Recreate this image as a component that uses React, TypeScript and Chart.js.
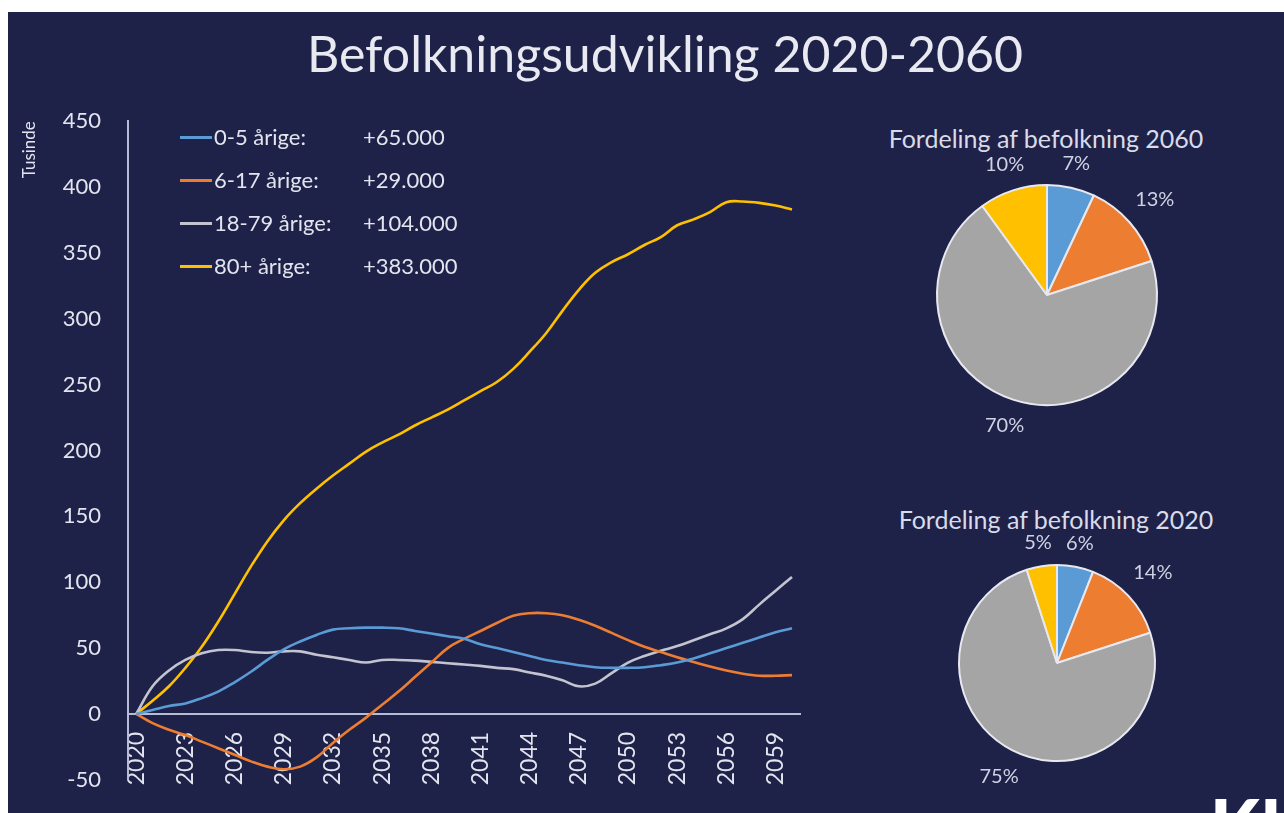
import React, { useEffect, useRef } from "react";
import { Chart, registerables } from "chart.js";

Chart.register(...registerables);

// ---------- DATA ----------
const years = [
  "2020", "2021", "2022", "2023", "2024", "2025", "2026", "2027", "2028", "2029",
  "2030", "2031", "2032", "2033", "2034", "2035", "2036", "2037", "2038", "2039",
  "2040", "2041", "2042", "2043", "2044", "2045", "2046", "2047", "2048", "2049",
  "2050", "2051", "2052", "2053", "2054", "2055", "2056", "2057", "2058", "2059",
  "2060",
];
const shownYearTicks = [
  "2020", "2023", "2026", "2029", "2032", "2035", "2038",
  "2041", "2044", "2047", "2050", "2053", "2056", "2059",
];

const age0to5 = [
  0, 3, 6, 8, 12, 17, 24, 32, 41, 49,
  55, 60, 64, 65, 65.5, 65.5, 65, 63, 61, 59,
  57, 53, 50, 47, 44, 41, 39, 37, 35.5, 35,
  35, 35.5, 37, 39, 42, 46, 50, 54, 58, 62,
  65,
];
const age6to17 = [
  0, -7, -12, -16, -21, -26, -31, -36, -40, -42,
  -40, -33, -22, -12, -3, 7, 17, 28, 39, 50,
  57, 63, 69, 74.5, 76.5, 76.5, 75, 71.5, 67, 61.5,
  56, 51, 47, 43, 39.5, 36, 33, 30.5, 29, 29,
  29.5,
];
const age18to79 = [
  0, 21, 33, 41, 46, 48.5, 48.5, 47, 46.5, 47.5,
  47.5, 45, 43, 41, 39, 41, 41, 40.5, 39.5, 38.5,
  37.5, 36.5, 35, 34, 31.5, 29, 25.5, 21, 23, 31,
  39, 44, 48, 51.5, 56, 60.5, 65, 72, 83, 93.5,
  104,
];
const age80plus = [
  0, 10, 21, 35, 51, 70, 91, 112, 131, 147,
  160, 171, 181, 190, 199, 206, 212, 219, 225, 231,
  238, 245, 252, 262, 275, 289, 306, 322, 335, 343,
  349, 356, 362, 371, 375.5, 381, 388.5, 389, 388, 386,
  383,
];

const seriesLabels = ["0-5 årige:", "6-17 årige:", "18-79 årige:", "80+ årige:"];
const changeLabels = ["+65.000", "+29.000", "+104.000", "+383.000"];

const pie2060 = [7, 13, 70, 10];
const pie2020 = [6, 14, 75, 5];

// ---------- STYLE ----------
const BG = "#1e2249";
const TEXT = "#e3e4ee";
const AXIS = "#b7bbd5";
const COLORS = ["#5b9bd5", "#ed7d31", "#c3c4cf", "#ffc000"];
const PIE_COLORS = ["#5b9bd5", "#ed7d31", "#a5a5a5", "#ffc000"];
const FONT = "Lato, 'Open Sans', sans-serif";

function LineChart() {
  const ref = useRef<HTMLCanvasElement | null>(null);
  useEffect(() => {
    if (!ref.current) return;
    const series = [age0to5, age6to17, age18to79, age80plus];
    const chart = new Chart(ref.current, {
      type: "line",
      data: {
        labels: years,
        datasets: series.map((d, i) => ({
          label: seriesLabels[i],
          data: d,
          borderColor: COLORS[i],
          backgroundColor: COLORS[i],
          borderWidth: 2.6,
          pointRadius: 0,
          tension: 0.4,
          fill: false,
        })),
      },
      options: {
        animation: false,
        responsive: false,
        maintainAspectRatio: false,
        events: [],
        layout: { padding: { top: 18, bottom: 23, left: 0, right: 34 } },
        plugins: { legend: { display: false }, tooltip: { enabled: false } },
        scales: {
          x: {
            type: "category",
            offset: true,
            position: { y: 0 } as any,
            grid: { display: false, drawTicks: false },
            border: { display: true, color: AXIS, width: 2 },
            ticks: {
              autoSkip: false,
              maxRotation: 90,
              minRotation: 90,
              color: TEXT,
              padding: 18,
              font: { family: FONT, size: 23 },
              callback: (_v: any, idx: number) =>
                shownYearTicks.includes(years[idx]) ? years[idx] : "",
            },
            afterFit: (s: any) => {
              s.height = 0;
            },
          },
          y: {
            min: -50,
            max: 450,
            grid: { display: false, drawTicks: false },
            border: { display: true, color: AXIS, width: 2 },
            ticks: {
              stepSize: 50,
              color: TEXT,
              padding: 27,
              font: { family: FONT, size: 22 },
            },
            title: {
              display: true,
              text: "Tusinde",
              align: "end",
              color: TEXT,
              font: { family: FONT, size: 17 },
              padding: { top: 11, bottom: 0 },
            },
            afterFit: (s: any) => {
              s.width = 120;
            },
          },
        },
      },
    });
    return () => chart.destroy();
  }, []);
  return (
    <canvas
      ref={ref}
      width={830}
      height={739}
      style={{ position: "absolute", left: 0, top: 69, width: 830, height: 739 }}
    />
  );
}

const pieLabelPlugin = {
  id: "pieOutsideLabels",
  afterDatasetsDraw(chart: any) {
    const ctx = chart.ctx;
    const meta = chart.getDatasetMeta(0);
    const values = chart.data.datasets[0].data as number[];
    const size = 20;
    ctx.save();
    ctx.font = `${size}px ${FONT}`;
    ctx.fillStyle = "#cfd2e3";
    ctx.textAlign = "center";
    ctx.textBaseline = "middle";
    meta.data.forEach((arc: any, i: number) => {
      const p = arc.getProps(["x", "y", "startAngle", "endAngle", "outerRadius"], true);
      const mid = (p.startAngle + p.endAngle) / 2;
      const ux = Math.cos(mid);
      const uy = Math.sin(mid);
      const text = `${values[i]}%`;
      const w = ctx.measureText(text).width;
      const h = size * 0.75;
      const d = p.outerRadius + 14 + Math.abs(ux) * w / 2 + Math.abs(uy) * h / 2;
      ctx.fillText(text, p.x + ux * d, p.y + uy * d);
    });
    ctx.restore();
  },
};

function PieChart(props: { values: number[]; radius: number; left: number; top: number; size: number }) {
  const ref = useRef<HTMLCanvasElement | null>(null);
  useEffect(() => {
    if (!ref.current) return;
    const chart = new Chart(ref.current, {
      type: "pie",
      data: {
        labels: seriesLabels,
        datasets: [
          {
            data: props.values,
            backgroundColor: PIE_COLORS,
            borderColor: "#e8e9f0",
            borderWidth: 2,
            hoverOffset: 0,
            radius: props.radius,
          } as any,
        ],
      },
      options: {
        animation: false,
        responsive: false,
        maintainAspectRatio: false,
        events: [],
        plugins: { legend: { display: false }, tooltip: { enabled: false } },
      },
      plugins: [pieLabelPlugin],
    });
    return () => chart.destroy();
  }, []);
  return (
    <canvas
      ref={ref}
      width={props.size}
      height={props.size}
      style={{
        position: "absolute",
        left: props.left,
        top: props.top,
        width: props.size,
        height: props.size,
      }}
    />
  );
}

const pieTitleStyle: React.CSSProperties = {
  position: "absolute",
  transform: "translateX(-50%)",
  fontSize: 25,
  lineHeight: "28px",
  whiteSpace: "nowrap",
  color: "#d9dbe8",
};

export default function App() {
  return (
    <div
      style={{
        position: "fixed",
        left: 8,
        top: 12,
        right: 0,
        bottom: 0,
        background: BG,
        overflow: "hidden",
        fontFamily: FONT,
        color: TEXT,
      }}
    >
      <div
        style={{
          position: "absolute",
          left: 657,
          top: 16,
          transform: "translateX(-50%)",
          fontSize: 50,
          lineHeight: "50px",
          whiteSpace: "nowrap",
          color: "#e8e9f1",
        }}
      >
        Befolkningsudvikling 2020-2060
      </div>

      <LineChart />

      {seriesLabels.map((lab, i) => {
        const cy = [125, 168, 211, 254][i];
        return (
          <React.Fragment key={lab}>
            <div
              style={{
                position: "absolute",
                left: 172,
                top: cy - 1.5,
                width: 32,
                height: 3,
                background: COLORS[i],
              }}
            />
            <div
              style={{
                position: "absolute",
                left: 206,
                top: cy - 13,
                fontSize: 22,
                lineHeight: "26px",
                whiteSpace: "nowrap",
              }}
            >
              {lab}
            </div>
            <div
              style={{
                position: "absolute",
                left: 355,
                top: cy - 13,
                fontSize: 22,
                lineHeight: "26px",
                whiteSpace: "nowrap",
              }}
            >
              {changeLabels[i]}
            </div>
          </React.Fragment>
        );
      })}

      <div style={{ ...pieTitleStyle, left: 1038, top: 112 }}>
        Fordeling af befolkning 2060
      </div>
      <PieChart values={pie2060} radius={110} left={839} top={83} size={400} />

      <div style={{ ...pieTitleStyle, left: 1048, top: 493 }}>
        Fordeling af befolkning 2020
      </div>
      <PieChart values={pie2020} radius={98} left={869} top={471} size={360} />

      <div
        style={{
          position: "absolute",
          left: 1202,
          top: 776,
          fontSize: 72,
          lineHeight: "72px",
          fontWeight: 900,
          color: "#ffffff",
          whiteSpace: "nowrap",
        }}
      >
        KL
      </div>
    </div>
  );
}
